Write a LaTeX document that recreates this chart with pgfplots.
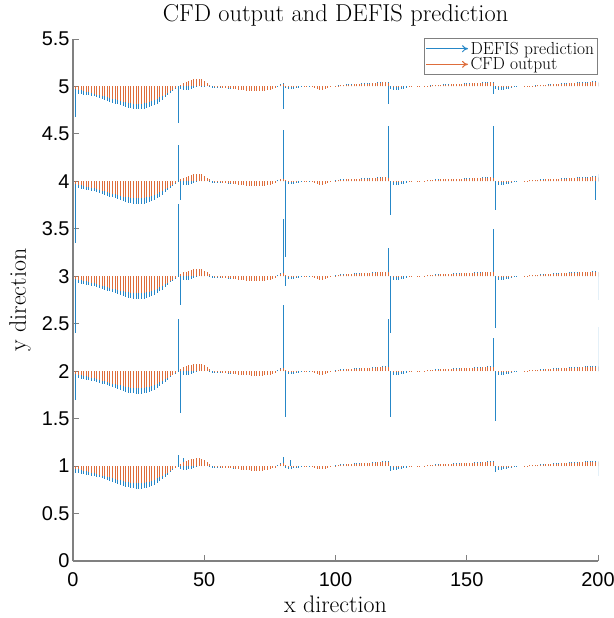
\documentclass[border=0pt]{standalone}
\usepackage{fontspec}
\setsansfont{Liberation Sans}
\usepackage{pgfplots}
\usepackage{pgfplotstable}
\pgfplotsset{compat=1.18}
\usetikzlibrary{arrows.meta}
\definecolor{mblue}{rgb}{0,0.447,0.741}
\definecolor{morange}{rgb}{0.85,0.325,0.098}
\definecolor{axgray}{gray}{0.5}
% x  c (CFD output)  d (DEFIS prediction)
\pgfplotstableread{
x c d
1 -0.03 -0.07
2 -0.035 -0.075
3 -0.04 -0.08
4 -0.05 -0.085
5 -0.055 -0.09
6 -0.06 -0.095
7 -0.07 -0.10
8 -0.075 -0.105
9 -0.085 -0.11
10 -0.09 -0.12
11 -0.10 -0.13
12 -0.105 -0.14
13 -0.115 -0.15
14 -0.12 -0.16
15 -0.13 -0.17
16 -0.135 -0.18
17 -0.145 -0.19
18 -0.15 -0.20
19 -0.16 -0.21
20 -0.165 -0.22
21 -0.17 -0.225
22 -0.175 -0.23
23 -0.18 -0.235
24 -0.18 -0.24
25 -0.18 -0.24
26 -0.18 -0.24
27 -0.175 -0.235
28 -0.17 -0.23
29 -0.165 -0.22
30 -0.155 -0.21
31 -0.145 -0.195
32 -0.13 -0.18
33 -0.115 -0.16
34 -0.10 -0.14
35 -0.085 -0.115
36 -0.07 -0.09
37 -0.05 -0.065
38 -0.035 -0.045
39 -0.02 -0.025
40 0.0 -0.01
41 0.02 -0.03
42 0.04 -0.04
43 0.05 -0.04
44 0.06 -0.035
45 0.07 -0.03
46 0.075 -0.02
47 0.08 -0.01
48 0.08 0.0
49 0.075 0.01
50 0.06 0.01
51 0.04 0.0
52 0.02 -0.01
53 0.0 -0.015
54 -0.01 -0.02
55 -0.01 -0.02
56 -0.01 -0.02
57 -0.015 -0.02
58 -0.015 -0.02
59 -0.02 -0.025
60 -0.02 -0.025
61 -0.025 -0.03
62 -0.03 -0.03
63 -0.035 -0.035
64 -0.04 -0.04
65 -0.04 -0.04
66 -0.045 -0.045
67 -0.045 -0.045
68 -0.05 -0.05
69 -0.05 -0.05
70 -0.05 -0.05
71 -0.05 -0.05
72 -0.05 -0.05
73 -0.045 -0.045
74 -0.04 -0.04
75 -0.035 -0.035
76 -0.025 -0.02
77 -0.015 -0.01
78 0.0 0.01
79 0.02 0.03
80 0.03 0.04
81 0.01 -0.02
82 -0.01 -0.03
83 -0.01 -0.03
84 -0.01 -0.025
85 -0.005 -0.02
86 0.0 -0.015
87 0.0 -0.01
88 0.005 -0.005
89 0.005 0.0
90 0.0 -0.005
91 -0.01 -0.01
92 -0.02 -0.02
93 -0.03 -0.03
94 -0.035 -0.035
95 -0.035 -0.035
96 -0.03 -0.03
97 -0.02 -0.02
98 -0.01 -0.01
99 0.0 0.0
100 0.005 0.01
101 0.01 0.015
102 0.015 0.02
103 0.015 0.02
104 0.02 0.025
105 0.02 0.025
106 0.02 0.025
107 0.025 0.03
108 0.025 0.03
109 0.025 0.03
110 0.03 0.035
111 0.03 0.035
112 0.03 0.035
113 0.03 0.035
114 0.035 0.04
115 0.035 0.04
116 0.04 0.045
117 0.04 0.045
118 0.045 0.05
119 0.045 0.05
120 0.04 0.05
121 0.0 -0.03
122 -0.01 -0.04
123 -0.01 -0.04
124 -0.01 -0.035
125 -0.005 -0.03
126 0.0 -0.025
127 0.0 -0.02
128 0.005 -0.01
129 0.005 -0.005
130 0.0 0.0
131 -0.005 0.0
132 -0.005 -0.005
133 0.0 0.0
134 0.005 0.005
135 0.01 0.01
136 0.01 0.015
137 0.015 0.015
138 0.015 0.02
139 0.015 0.02
140 0.02 0.02
141 0.02 0.025
142 0.02 0.025
143 0.02 0.025
144 0.025 0.025
145 0.025 0.03
146 0.025 0.03
147 0.025 0.03
148 0.03 0.03
149 0.03 0.035
150 0.03 0.035
151 0.03 0.035
152 0.035 0.035
153 0.035 0.04
154 0.035 0.04
155 0.035 0.04
156 0.04 0.045
157 0.04 0.045
158 0.04 0.05
159 0.045 0.05
160 0.04 0.05
161 0.0 -0.03
162 -0.01 -0.04
163 -0.01 -0.04
164 -0.01 -0.035
165 -0.01 -0.03
166 -0.005 -0.025
167 -0.005 -0.02
168 0.0 -0.01
169 0.0 -0.005
170 0.0 0.0
171 0.0 0.0
172 0.005 0.005
173 0.005 0.005
174 0.01 0.01
175 0.01 0.01
176 0.01 0.015
177 0.015 0.015
178 0.015 0.02
179 0.015 0.02
180 0.02 0.02
181 0.02 0.025
182 0.02 0.025
183 0.025 0.03
184 0.025 0.03
185 0.025 0.03
186 0.03 0.035
187 0.03 0.035
188 0.03 0.035
189 0.035 0.04
190 0.035 0.04
191 0.035 0.04
192 0.035 0.045
193 0.04 0.045
194 0.04 0.045
195 0.04 0.05
196 0.04 0.05
197 0.045 0.05
198 0.045 0.055
199 0.045 0.055
200 0.04 0.05
}\base
% DEFIS spikes per row
\pgfplotstableread{
x v
1 -0.32
40 -0.38
80 -0.24
120 -0.19
160 -0.08
}\spikefive
\pgfplotstableread{
x v
1 -0.65
40 0.38
41 -0.2
80 0.54
81 -0.8
120 0.58
121 -0.35
160 0.58
161 -0.3
199 -0.2
200 0.08
}\spikefour
\pgfplotstableread{
x v
1 -0.6
40 0.76
41 -0.3
80 0.6
81 -0.1
120 0.3
121 -0.6
160 0.5
161 -0.55
200 -0.25
}\spikethree
\pgfplotstableread{
x v
1 -0.3
40 0.55
41 -0.44
80 0.70
81 -0.48
120 0.55
121 -0.48
160 0.35
161 -0.52
200 0.47
}\spiketwo
\pgfplotstableread{
x v
40 0.12
42 0.08
80 0.1
83 0.06
121 -0.05
160 0.04
161 -0.06
200 -0.1
}\spikeone
\begin{document}
\begin{tikzpicture}
\useasboundingbox (-73bp,-57bp) rectangle (541bp,561bp);
\begin{axis}[
  scale only axis, width=525bp, height=522bp,
  xmin=0, xmax=200, ymin=0, ymax=5.5,
  axis x line*=bottom, axis y line*=left,
  axis line style={axgray, line width=1.1bp},
  every tick/.style={axgray, line width=1bp},
  tick align=inside, major tick length=6bp,
  xtick={0,50,100,150,200},
  ytick={0,0.5,1,1.5,2,2.5,3,3.5,4,4.5,5,5.5},
  yticklabels={0,0.5,1,1.5,2,2.5,3,3.5,4,4.5,5,5.5},
  /pgf/number format/assume math mode=true,
  ticklabel style={font=\sffamily\fontsize{20}{24}\selectfont, black},
  xticklabel style={yshift=-8bp},
  title={CFD output and DEFIS prediction},
  title style={font=\fontsize{24.5}{28}\selectfont, at={(0.5,1)}, anchor=base, yshift=12bp},
  xlabel={x direction},
  xlabel style={font=\fontsize{24}{28}\selectfont, at={(0.5,-0.0977)}, anchor=base},
  ylabel={y direction},
  ylabel style={font=\fontsize{24}{28}\selectfont, at={(-0.101,0.5)}, anchor=center},
  legend style={at={(1.0,1.002)}, anchor=north east, draw=axgray, line width=0.8bp,
    fill=white, font=\fontsize{17.5}{21}\selectfont, inner sep=1.5pt, row sep=-2pt},
  legend cell align=left,
]
\addplot[draw=mblue!85, line width=0.55bp, quiver={u=0, v=\thisrow{d}},
  legend image code/.code={\draw[draw=mblue!85, line width=1bp, -{To[length=6pt,width=7pt]}] (0bp,0bp) -- (42bp,0bp);}]
  table[x=x, y expr=1] {\base};
\addlegendentry{DEFIS prediction}
\addplot[forget plot, draw=mblue!85, line width=0.55bp, quiver={u=0, v=\thisrow{d}}] table[x=x, y expr=2] {\base};
\addplot[forget plot, draw=mblue!85, line width=0.55bp, quiver={u=0, v=\thisrow{d}}] table[x=x, y expr=3] {\base};
\addplot[forget plot, draw=mblue!85, line width=0.55bp, quiver={u=0, v=\thisrow{d}}] table[x=x, y expr=4] {\base};
\addplot[forget plot, draw=mblue!85, line width=0.55bp, quiver={u=0, v=\thisrow{d}}] table[x=x, y expr=5] {\base};
\addplot[forget plot, draw=mblue!85, line width=1bp, quiver={u=0, v=\thisrow{v}}] table[x=x, y expr=1] {\spikeone};
\addplot[forget plot, draw=mblue!85, line width=1bp, quiver={u=0, v=\thisrow{v}}] table[x=x, y expr=2] {\spiketwo};
\addplot[forget plot, draw=mblue!85, line width=1bp, quiver={u=0, v=\thisrow{v}}] table[x=x, y expr=3] {\spikethree};
\addplot[forget plot, draw=mblue!85, line width=1bp, quiver={u=0, v=\thisrow{v}}] table[x=x, y expr=4] {\spikefour};
\addplot[forget plot, draw=mblue!85, line width=1bp, quiver={u=0, v=\thisrow{v}}] table[x=x, y expr=5] {\spikefive};
\addplot[draw=morange!85, line width=0.55bp, quiver={u=0, v=\thisrow{c}},
  legend image code/.code={\draw[draw=morange!85, line width=1bp, -{To[length=6pt,width=7pt]}] (0bp,0bp) -- (42bp,0bp);}]
  table[x=x, y expr=1] {\base};
\addlegendentry{CFD output}
\addplot[forget plot, draw=morange!85, line width=0.55bp, quiver={u=0, v=\thisrow{c}}] table[x=x, y expr=2] {\base};
\addplot[forget plot, draw=morange!85, line width=0.55bp, quiver={u=0, v=\thisrow{c}}] table[x=x, y expr=3] {\base};
\addplot[forget plot, draw=morange!85, line width=0.55bp, quiver={u=0, v=\thisrow{c}}] table[x=x, y expr=4] {\base};
\addplot[forget plot, draw=morange!85, line width=0.55bp, quiver={u=0, v=\thisrow{c}}] table[x=x, y expr=5] {\base};
\end{axis}
\end{tikzpicture}
\end{document}
